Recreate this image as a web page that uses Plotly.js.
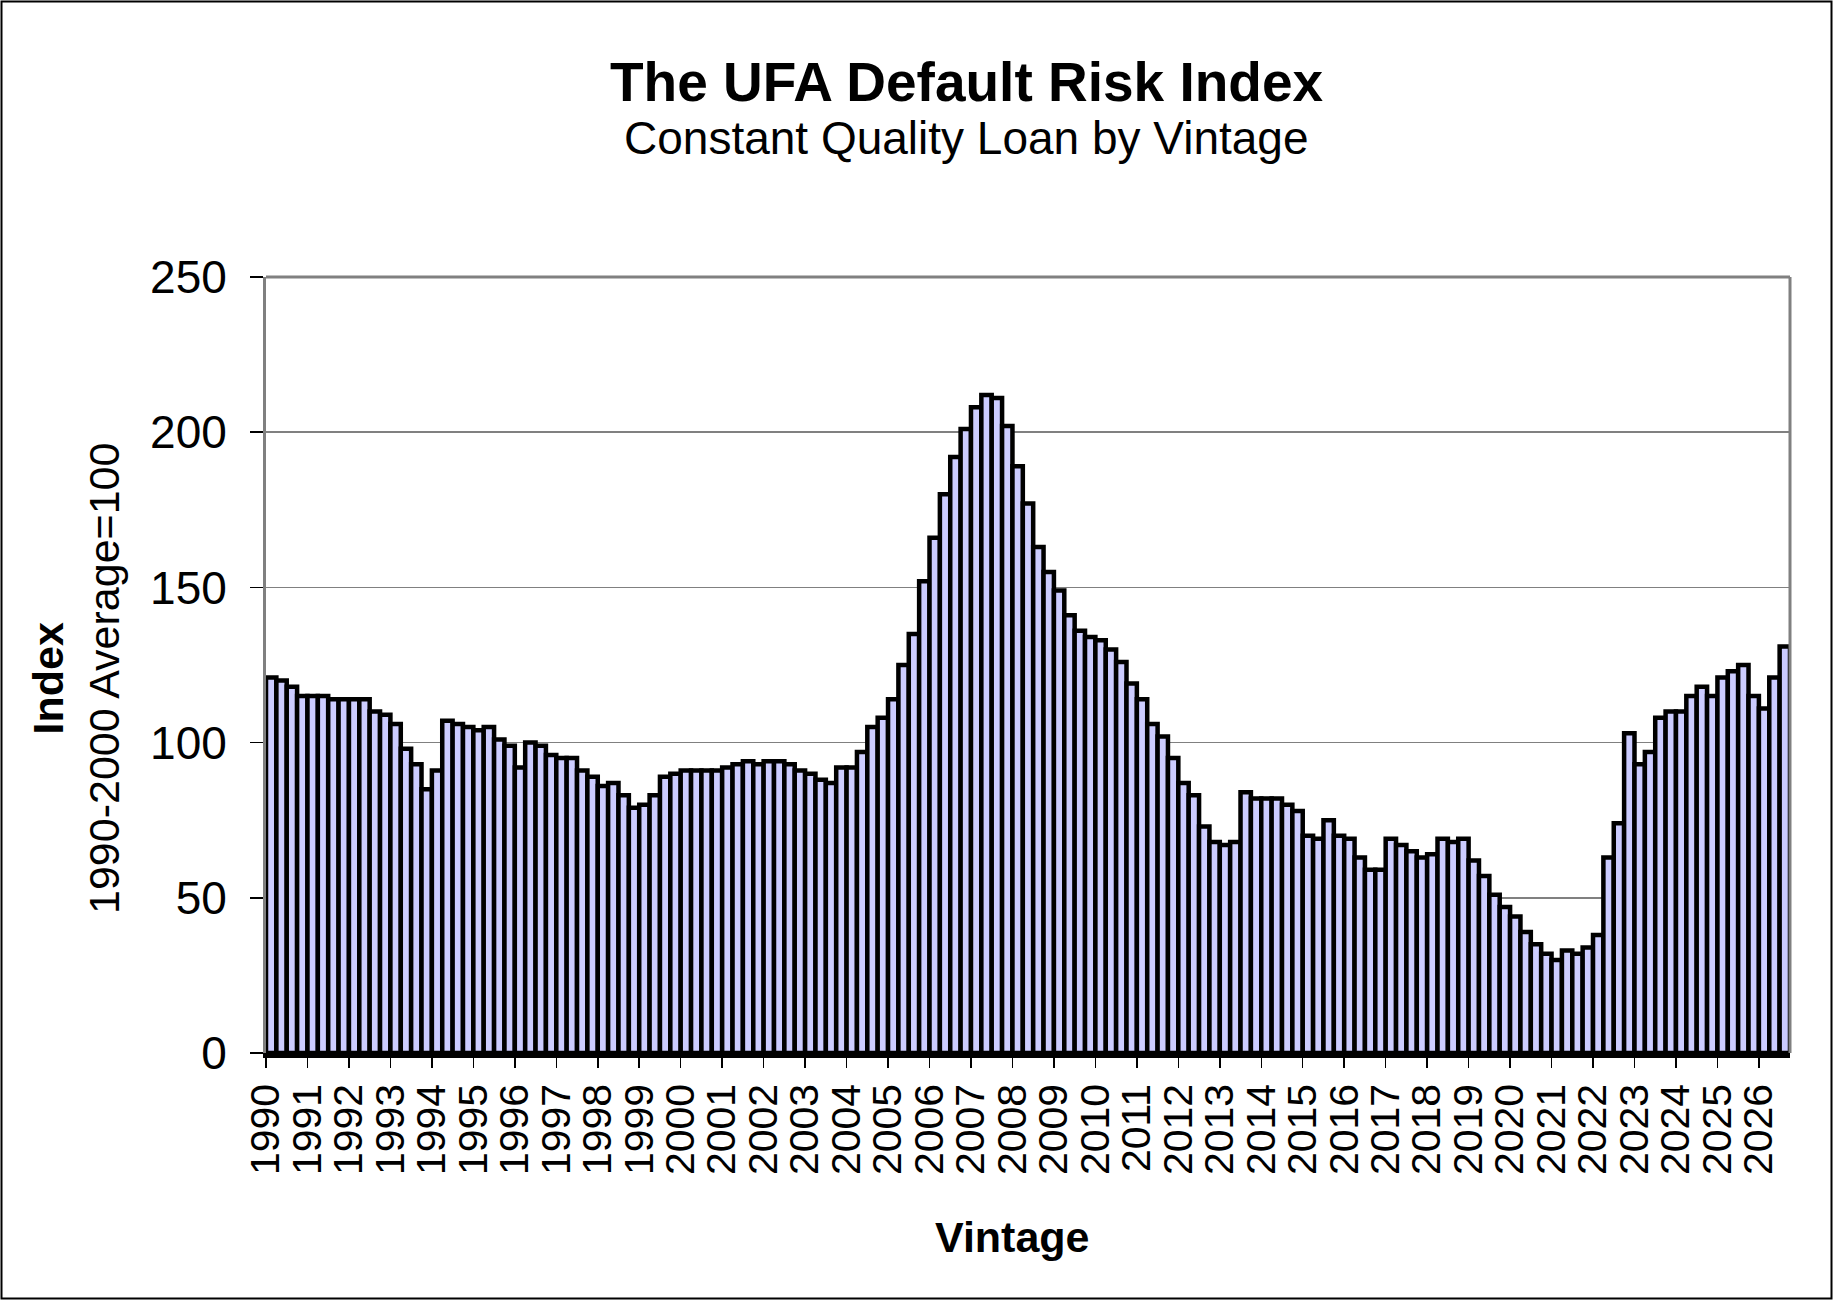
<!DOCTYPE html>
<html>
<head>
<meta charset="utf-8">
<script src="https://cdn.plot.ly/plotly-3.0.1.min.js"></script>
<style>
  html, body { margin: 0; padding: 0; background: #fff; }
  #chart { width: 1833px; height: 1300px; }
</style>
</head>
<body>
<div id="chart"></div>
<script>
// quarterly index values, 1990 Q1 onwards
let index1990s = [
  121, 120, 118, 115,   // 1990
  115, 115, 114, 114,   // 1991
  114, 114, 110, 109,   // 1992
  106, 98, 93, 85,      // 1993
  91, 107, 106, 105,    // 1994
  104, 105, 101, 99,    // 1995
  92, 100, 99, 96,      // 1996
  95, 95, 91, 89,       // 1997
  86, 87, 83, 79,       // 1998
  80, 83, 89, 90        // 1999
];
let index2000s = [
  91, 91, 91, 91,       // 2000
  92, 93, 94, 93,       // 2001
  94, 94, 93, 91,       // 2002
  90, 88, 87, 92,       // 2003
  92, 97, 105, 108,     // 2004
  114, 125, 135, 152,   // 2005
  166, 180, 192, 201,   // 2006
  208, 212, 211, 202,   // 2007
  189, 177, 163, 155,   // 2008
  149, 141, 136, 134    // 2009
];
let index2010s = [
  133, 130, 126, 119,   // 2010
  114, 106, 102, 95,    // 2011
  87, 83, 73, 68,       // 2012
  67, 68, 84, 82,       // 2013
  82, 82, 80, 78,       // 2014
  70, 69, 75, 70,       // 2015
  69, 63, 59, 59,       // 2016
  69, 67, 65, 63,       // 2017
  64, 69, 68, 69,       // 2018
  62, 57, 51, 47        // 2019
];
let index2020s = [
  44, 39, 35, 32,       // 2020
  30, 33, 32, 34,       // 2021
  38, 63, 74, 103,      // 2022
  93, 97, 108, 110,     // 2023
  110, 115, 118, 115,   // 2024
  121, 123, 125, 115,   // 2025
  111, 121, 131         // 2026
];
let firstYear = 1990;
let lastYear = 2026;
let yTicks = [0, 50, 100, 150, 200, 250];

let values = index1990s.concat(index2000s, index2010s, index2020s);
let xs = values.map((v, i) => i);

// one label per year, sitting on the boundary before that year's first quarter
let yearTickVals = [];
let yearTickText = [];
for (let y = firstYear; y <= lastYear; y++) {
  yearTickVals.push((y - firstYear) * 4 - 0.5);
  yearTickText.push(String(y));
}

let W = 1833, H = 1300;
let mar = {l: 266, r: 43, t: 277, b: 247};
let pw = W - mar.l - mar.r, ph = H - mar.t - mar.b;
let font = 'Liberation Sans, Arial, sans-serif';

let data = [{
  type: 'bar',
  x: xs,
  y: values,
  marker: {color: '#CCCCFF', line: {color: '#000000', width: 4.5}},
  hoverinfo: 'y'
}];

let layout = {
  width: W, height: H,
  margin: mar,
  paper_bgcolor: '#ffffff',
  plot_bgcolor: '#ffffff',
  bargap: 0,
  showlegend: false,
  font: {family: font, color: '#000', size: 42},
  xaxis: {
    range: [-0.5, values.length - 0.5],
    tickmode: 'array',
    tickvals: yearTickVals,
    ticktext: yearTickText,
    tickangle: -90,
    ticks: 'outside', ticklen: 10, tickwidth: 1.5, tickcolor: '#000',
    tickfont: {size: 41, family: font},
    showgrid: false, zeroline: false,
    showline: true, linecolor: '#000', linewidth: 4.5
  },
  yaxis: {
    range: [0, 250],
    tickmode: 'array',
    tickvals: yTicks,
    ticks: 'outside', ticklen: 13, tickwidth: 1.5, tickcolor: '#000',
    tickfont: {size: 46, family: font},
    ticklabelstandoff: 14,
    showgrid: true, gridcolor: '#808080', gridwidth: 1.5,
    zeroline: false,
    showline: true, linecolor: '#808080', linewidth: 3
  },
  shapes: [
    // grey frame on top and right of the plot area
    {type: 'line', xref: 'paper', yref: 'paper', x0: 0, x1: 1, y0: 1, y1: 1,
     line: {color: '#808080', width: 3}},
    {type: 'line', xref: 'paper', yref: 'paper', x0: 1, x1: 1, y0: 0, y1: 1,
     line: {color: '#808080', width: 3}},
    // outer chart border
    {type: 'rect', xref: 'paper', yref: 'paper',
     x0: -(mar.l - 1.5) / pw, x1: 1 + (mar.r - 1.5) / pw,
     y0: -(mar.b - 1.5) / ph, y1: 1 + (mar.t - 1.5) / ph,
     line: {color: '#000', width: 2}, fillcolor: 'rgba(0,0,0,0)'}
  ],
  annotations: [
    {text: '<b>The UFA Default Risk Index</b>', xref: 'paper', yref: 'paper',
     x: (967 - mar.l) / pw, y: (H - mar.b - 82) / ph, showarrow: false,
     xanchor: 'center', yanchor: 'middle', font: {size: 55, family: font}},
    {text: 'Constant Quality Loan by Vintage', xref: 'paper', yref: 'paper',
     x: (966 - mar.l) / pw, y: (H - mar.b - 138) / ph, showarrow: false,
     xanchor: 'center', yanchor: 'middle', font: {size: 46, family: font}},
    {text: '<b>Index</b><br>1990-2000 Average=100', xref: 'paper', yref: 'paper',
     x: (76 - mar.l) / pw, y: (H - mar.b - 679) / ph, showarrow: false,
     textangle: -90, xanchor: 'center', yanchor: 'middle',
     font: {size: 43, family: font}},
    {text: '<b>Vintage</b>', xref: 'paper', yref: 'paper',
     x: (1012 - mar.l) / pw, y: (H - mar.b - 1237) / ph, showarrow: false,
     xanchor: 'center', yanchor: 'middle', font: {size: 43, family: font}}
  ]
};

Plotly.newPlot('chart', data, layout, {displayModeBar: false, staticPlot: true});
</script>
</body>
</html>
